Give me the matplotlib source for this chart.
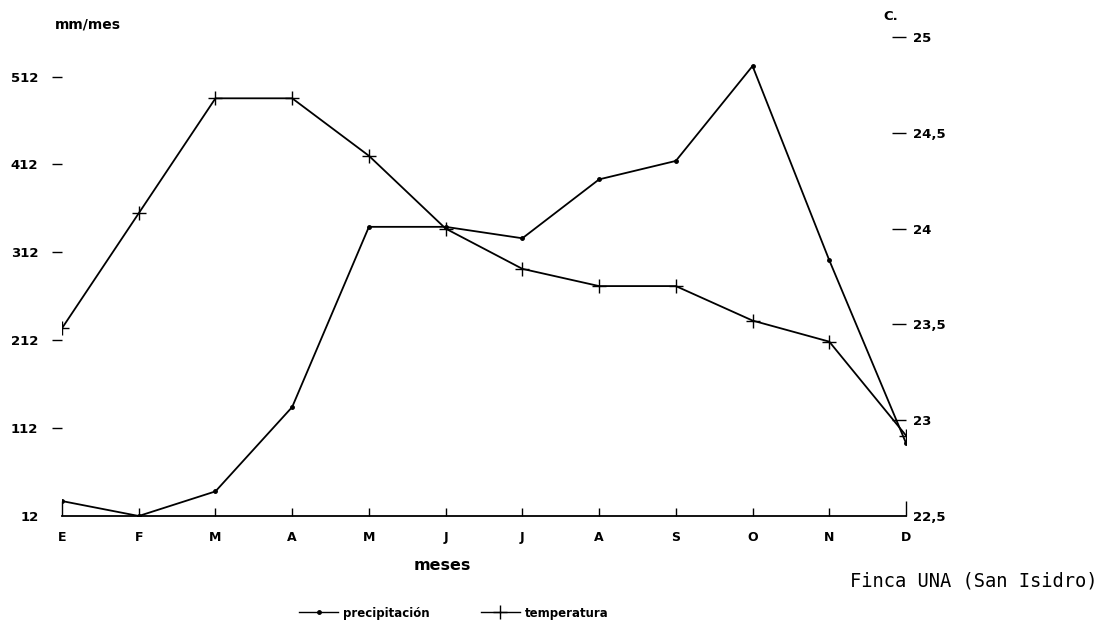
import matplotlib
matplotlib.use("Agg")
import matplotlib.pyplot as plt
from matplotlib.lines import Line2D

# ---------------------------------------------------------------
# Finca UNA (San Isidro): monthly rainfall and mean temperature
# ---------------------------------------------------------------
meses = ["E", "F", "M", "A", "M", "J", "J", "A", "S", "O", "N", "D"]
precipitacion = [29, 12, 40, 136, 341, 341, 328, 395, 416, 524, 303, 95]
temperatura = [23.48, 24.08, 24.68, 24.68, 24.38, 24.0, 23.79, 23.70, 23.70,
               23.52, 23.41, 22.92]

ticks_mm = [12, 112, 212, 312, 412, 512]
ticks_c = [22.5, 23, 23.5, 24, 24.5, 25]
labels_c = ["22,5", "23", "23,5", "24", "24,5", "25"]

plt.rcParams["font.family"] = "DejaVu Sans"

fig = plt.figure(figsize=(11.08, 6.31), dpi=100)
ax = fig.add_axes([62 / 1108, 115 / 631, (906 - 62) / 1108, (516 - 37) / 631])
ax2 = ax.twinx()

x = list(range(len(meses)))

# precipitation: line with small dots
ax.plot(x, precipitacion, color="black", lw=1.3, marker="o", ms=2.5,
        label="precipitación", zorder=3)
# temperature: line with plus markers on the right-hand scale
ax2.plot(x, temperatura, color="black", lw=1.3, marker="+", ms=10, mew=1.0,
         label="temperatura", zorder=3)

ax.set_xlim(0, 11)
ax.set_ylim(12, 557)
ax2.set_ylim(22.5, 25.0)

for s in ["left", "top", "right"]:
    ax.spines[s].set_visible(False)
    ax2.spines[s].set_visible(False)
ax2.spines["bottom"].set_visible(False)
ax.spines["bottom"].set_linewidth(1.3)

# month ticks point up from the base line, taller at both ends
ax.set_xticks(x)
ax.set_xticklabels(meses, fontsize=9, fontweight="bold")
ax.tick_params(axis="x", direction="in", length=6, width=1.0, pad=11)
for i in (0, len(x) - 1):
    ax.xaxis.get_major_ticks()[i].tick1line.set_markersize(11)

ax.set_yticks(ticks_mm)
ax.set_yticklabels([str(t) for t in ticks_mm], fontsize=9.5, fontweight="bold")
ax.tick_params(axis="y", direction="out", length=7, width=1.0, pad=10)
ax.yaxis.get_major_ticks()[0].tick1line.set_visible(False)

ax2.set_yticks(ticks_c)
ax2.set_yticklabels(labels_c, fontsize=9.5, fontweight="bold")
ax2.tick_params(axis="y", direction="in", length=10, width=1.0, pad=5)
ax2.yaxis.get_major_ticks()[0].tick2line.set_visible(False)

# axis titles and station name
fig.text(55 / 1108, 1 - 25 / 631, "mm/mes", fontsize=10, fontweight="bold",
         va="center", ha="left")
fig.text(883 / 1108, 1 - 17 / 631, "C.", fontsize=9.5, fontweight="bold",
         va="center", ha="left")
fig.text(442 / 1108, 1 - 565 / 631, "meses", fontsize=11.5, fontweight="bold",
         va="center", ha="center")
fig.text(850 / 1108, 1 - 581 / 631, "Finca UNA (San Isidro)",
         family="DejaVu Sans Mono", fontsize=13.5, va="center", ha="left")

handles = [
    Line2D([], [], color="black", lw=1.0, marker="o", ms=2.5),
    Line2D([], [], color="black", lw=1.0, marker="+", ms=10, mew=1.0),
]
fig.legend(handles, ["precipitación", "temperatura"], loc="center",
           bbox_to_anchor=(454 / 1108, 1 - 613 / 631), ncol=2, frameon=False,
           handlelength=3.3, handletextpad=0.45, columnspacing=4.3,
           prop={"size": 8.5, "weight": "bold"})

fig.savefig("out.png", dpi=100, facecolor="white")
